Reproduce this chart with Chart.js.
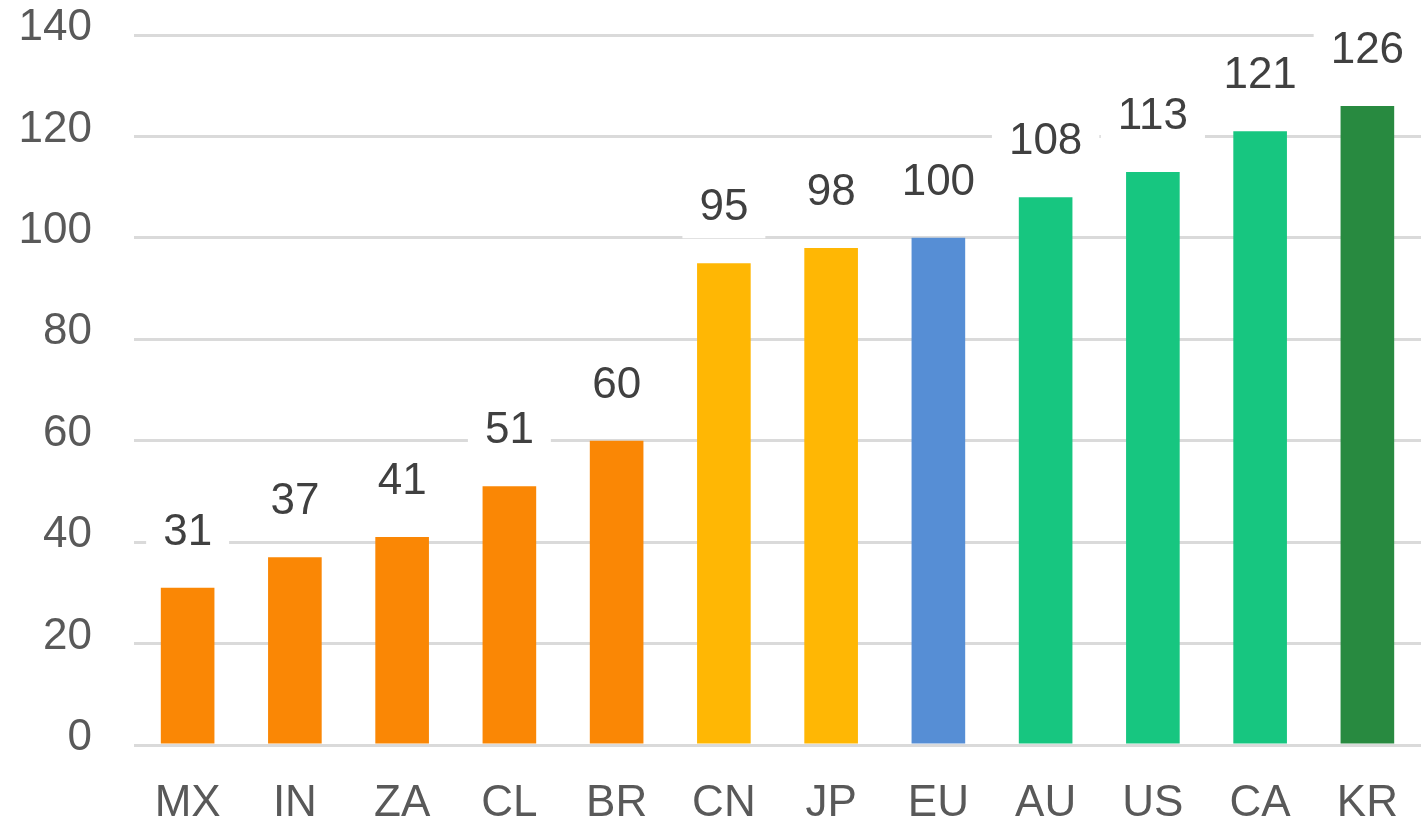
<!DOCTYPE html>
<html>
<head>
<meta charset="utf-8">
<script src="https://cdn.jsdelivr.net/npm/chart.js@4"></script>
<style>
  html, body { margin: 0; padding: 0; background: #fff; }
  #wrap { width: 1421px; height: 818px; position: relative; }
</style>
</head>
<body>
<div id="wrap"><canvas id="chart"></canvas></div>
<script>
// Данные графика
const categories = ["MX", "IN", "ZA", "CL", "BR", "CN", "JP", "EU", "AU", "US", "CA", "KR"];
const values = [31, 37, 41, 51, 60, 95, 98, 100, 108, 113, 121, 126];
const yTicks = [0, 20, 40, 60, 80, 100, 120, 140];

// Цвета столбцов
const ORANGE = "#fa8705";
const YELLOW = "#ffb704";
const BLUE = "#568ed5";
const GREEN = "#17c680";
const DARK_GREEN = "#288a40";
const barColors = [ORANGE, ORANGE, ORANGE, ORANGE, ORANGE, YELLOW, YELLOW, BLUE, GREEN, GREEN, GREEN, DARK_GREEN];

const FONT = "'Liberation Sans', Arial, sans-serif";

// Подписи значений над столбцами с белой подложкой
const valueLabels = {
  id: "valueLabels",
  afterDatasetsDraw(chart) {
    const ctx = chart.ctx;
    const meta = chart.getDatasetMeta(0);
    ctx.save();
    ctx.font = `44px ${FONT}`;
    ctx.textAlign = "center";
    ctx.textBaseline = "middle";
    meta.data.forEach((bar, i) => {
      const text = String(values[i]);
      const w = ctx.measureText(text).width + 34;
      const cy = bar.y - 55;
      ctx.fillStyle = "#ffffff";
      ctx.fillRect(bar.x - w / 2, cy - 30, w, 60);
      ctx.fillStyle = "#404040";
      ctx.fillText(text, bar.x, cy);
    });
    ctx.restore();
  },
};

// убираем автоматические отступы под подписи осей
function noPadding(scale) {
  scale.paddingTop = 0;
  scale.paddingBottom = 0;
  scale.paddingLeft = 0;
  scale.paddingRight = 0;
}

new Chart(document.getElementById("chart"), {
  type: "bar",
  data: {
    labels: categories,
    datasets: [
      {
        data: values,
        backgroundColor: barColors,
        borderWidth: 0,
        barPercentage: 0.5,
        categoryPercentage: 1,
      },
    ],
  },
  options: {
    responsive: true,
    maintainAspectRatio: false,
    animation: false,
    layout: {
      padding: { left: 0, right: 0, top: 35, bottom: 0 },
    },
    scales: {
      y: {
        min: 0,
        max: 140,
        afterFit(scale) {
          scale.width = 134;
          noPadding(scale);
        },
        afterBuildTicks(scale) {
          scale.ticks = yTicks.map((v) => ({ value: v }));
        },
        grid: {
          color: "#dadada",
          lineWidth: 3,
          drawTicks: false,
        },
        border: { display: false },
        ticks: {
          padding: 42,
          labelOffset: -7,
          color: "#595959",
          font: { family: FONT, size: 44 },
        },
      },
      x: {
        afterFit(scale) {
          scale.height = 73;
          noPadding(scale);
        },
        grid: { display: false, drawTicks: false },
        border: { display: false },
        ticks: {
          padding: 32,
          color: "#595959",
          maxRotation: 0,
          autoSkip: false,
          font: { family: FONT, size: 44 },
        },
      },
    },
    plugins: {
      legend: { display: false },
      tooltip: { enabled: false },
    },
  },
  plugins: [valueLabels],
});
</script>
</body>
</html>
